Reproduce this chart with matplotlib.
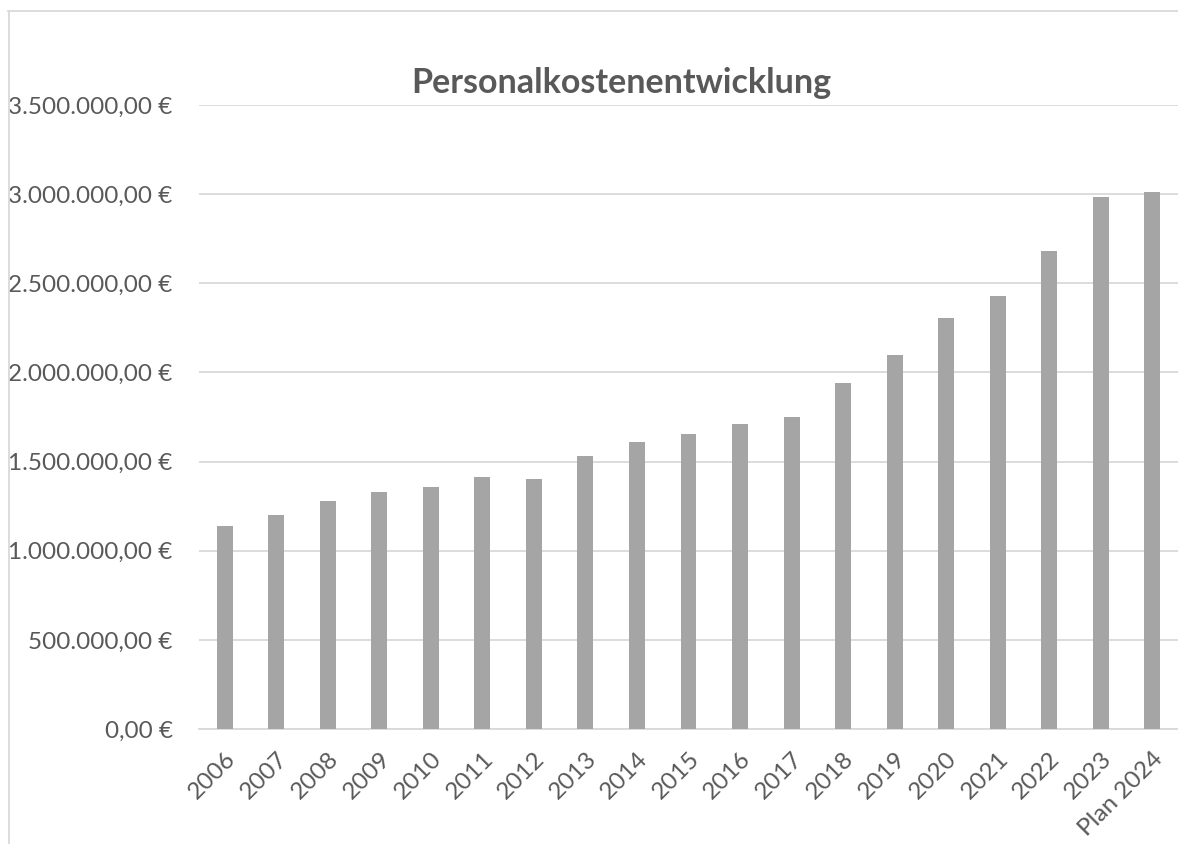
import matplotlib
matplotlib.use("Agg")
import matplotlib.pyplot as plt
from matplotlib.lines import Line2D
from matplotlib.ticker import FuncFormatter, MultipleLocator

years = ["2006", "2007", "2008", "2009", "2010", "2011", "2012", "2013", "2014",
         "2015", "2016", "2017", "2018", "2019", "2020", "2021", "2022", "2023",
         "Plan 2024"]
kosten = [1138000, 1202000, 1279000, 1328000, 1355000, 1412000, 1405000,
          1532000, 1612000, 1652000, 1708000, 1750000, 1938000, 2099000,
          2305000, 2428000, 2683000, 2984000, 3014000]

plt.rcParams['font.family'] = ['Lato', 'DejaVu Sans']
text_col = '#595959'


def euro(v, pos):
    s = f"{v:,.2f}"
    s = s.replace(",", "X").replace(".", ",").replace("X", ".")
    return s + " €"


fig = plt.figure(figsize=(11.78, 8.44), dpi=100)
ax = fig.add_axes([199 / 1178, 1 - 729 / 844, 1 - 199 / 1178, (729 - 105) / 844])

x = range(len(years))
ax.bar(x, kosten, width=0.31, color='#a5a5a5', zorder=3)

ax.set_xlim(-0.5, len(years) - 0.5)
ax.set_ylim(0, 3500000)
ax.yaxis.set_major_locator(MultipleLocator(500000))
ax.yaxis.set_major_formatter(FuncFormatter(euro))
ax.grid(axis='y', color='#d9d9d9', linewidth=1.3, zorder=0)
for s in ['top', 'right', 'left']:
    ax.spines[s].set_visible(False)
ax.spines['bottom'].set_color('#d9d9d9')
ax.spines['bottom'].set_linewidth(1.3)

ax.set_xticks(list(x))
ax.set_xticklabels(years, rotation=45, ha='right', va='top', rotation_mode='anchor')
ax.tick_params(axis='x', length=0, pad=14, labelsize=17.5, labelcolor=text_col)
ax.tick_params(axis='y', length=0, pad=19, labelsize=17.5, labelcolor=text_col)

fig.text(621 / 1178, 1 - 83 / 844, 'Personalkostenentwicklung', ha='center', va='center',
         fontsize=24.5, fontweight='bold', color=text_col)

# chart border (only left and top visible in the crop)
fig.add_artist(Line2D([8.5 / 1178, 8.5 / 1178], [0, 1 - 10.5 / 844], color='#d9d9d9', lw=1.3))
fig.add_artist(Line2D([8 / 1178, 1], [1 - 10.5 / 844, 1 - 10.5 / 844], color='#d9d9d9', lw=1.3))

fig.savefig('out.png', dpi=100)
